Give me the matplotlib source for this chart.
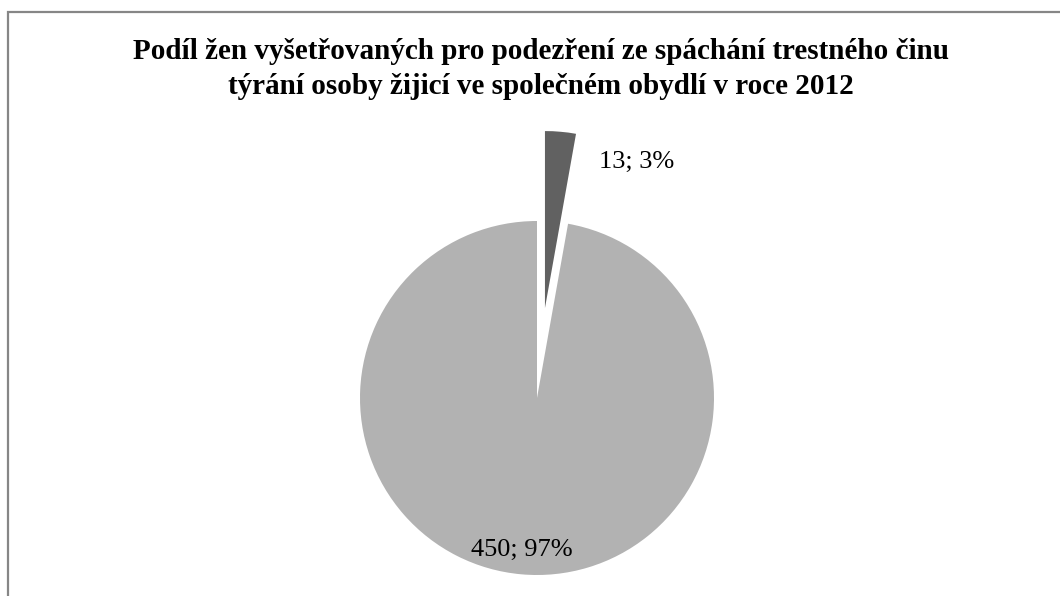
import matplotlib
matplotlib.use('Agg')
import matplotlib.pyplot as plt
from matplotlib.patches import Rectangle

# data
labels = ['13; 3%', '450; 97%']
values = [13, 450]
colors = ['#616161', '#b2b2b2']
title_lines = ['Podíl žen vyšetřovaných pro podezření ze spáchání trestného činu',
               'týrání osoby žijicí ve společném obydlí v roce 2012']

W, H = 1060, 596
plt.rcParams['font.family'] = ['Liberation Serif', 'DejaVu Serif']

fig = plt.figure(figsize=(W / 100, H / 100), dpi=100)

# rámeček grafu
fig.patches.append(Rectangle((8 / W, -0.05), 1.1, (H - 12) / H + 0.05,
                             transform=fig.transFigure, fill=False,
                             edgecolor='#868686', linewidth=1.6))

for line, base in zip(title_lines, [59, 94]):
    fig.text(541 / W, 1 - base / H, line, ha='center', va='baseline',
             fontsize=21, fontweight='bold')

# plocha výsečí v pixelech, poloměr 177 px, střed (537, 198 zdola)
R = 177.0
cx, cy = 537.0, 198.0
x0, x1, y0, y1 = 200.0, 880.0, 0.0, 470.0
ax = fig.add_axes([x0 / W, y0 / H, (x1 - x0) / W, (y1 - y0) / H])
wedges, _ = ax.pie(values, colors=colors, startangle=90, counterclock=False,
                   explode=[0.51, 0.0], wedgeprops=dict(linewidth=0))
ax.set_aspect('auto')
ax.set_xlim((x0 - cx) / R, (x1 - cx) / R)
ax.set_ylim((y0 - cy) / R, (y1 - cy) / R)
ax.axis('off')

fig.text(637 / W, 1 - 162 / H, labels[0], ha='center', va='center', fontsize=19)
fig.text(522 / W, 1 - 550 / H, labels[1], ha='center', va='center', fontsize=19)

fig.savefig('out.png', dpi=100)
